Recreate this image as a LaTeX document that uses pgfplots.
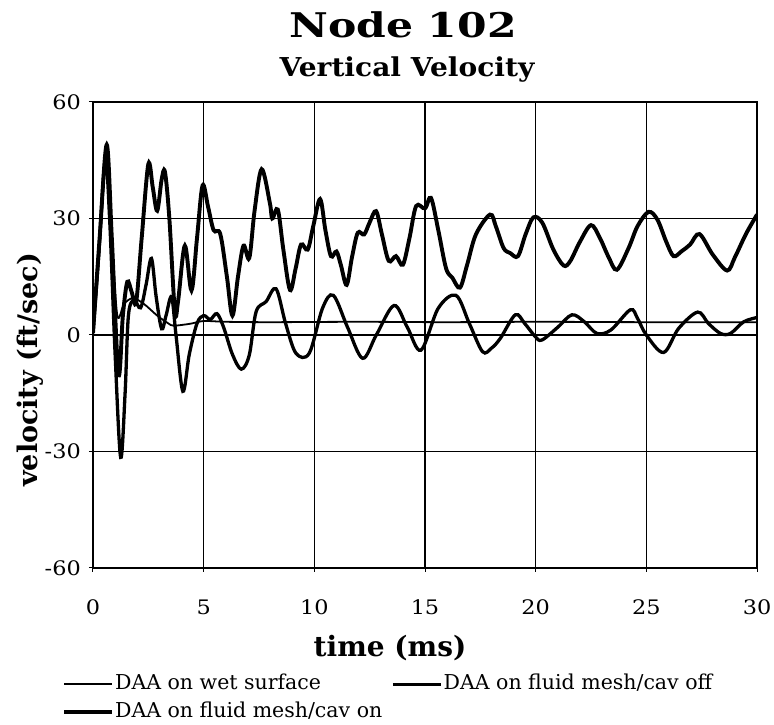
\documentclass[border=0pt]{standalone}
\usepackage{fontspec}
\usepackage{pgfplots}
\pgfplotsset{compat=1.18}
\setmainfont{DejaVu Serif}
\newfontfamily\dvs{DejaVu Serif}[FakeStretch=1.12]
\newfontfamily\dvt{DejaVu Serif}[FakeStretch=1.25]
\newfontfamily\dvu{DejaVu Serif}[FakeStretch=1.08]
\newfontfamily\lgf{DejaVu Serif}

\pgfplotstableread{
t v
0 0
0.3 22
0.6 46
0.85 25
1.1 5
1.4 8
1.8 9.5
2.3 8
2.9 5
3.4 3
3.65 2.4
4.4 2.9
5 3.6
6 3.4
8 3.3
12 3.4
16 3.3
20 3.4
25 3.3
30 3.3
}\wet

\pgfplotstableread{
t v
0 0.5
0.25 20
0.55 45
0.75 30
1.0 -5
1.25 -31.5
1.45 -15
1.6 5
1.85 9
2.15 7
2.4 13
2.64 19.7
2.85 10
3.1 1.6
3.3 5
3.55 9.8
3.75 0
4.06 -14.5
4.35 -5
4.7 3
5.0 5
5.3 4
5.6 5.5
5.9 2
6.3 -5
6.7 -8.8
7.06 -5.2
7.37 6
7.82 8.6
8.27 11.9
8.7 3
9.17 -4.7
9.77 -4.7
10.37 6.9
10.86 10.2
11.5 2
12.18 -6
12.8 0
13.6 7.6
14.2 2
14.82 -3.9
15.6 6.9
16.4 10.2
17.0 3
17.6 -4.3
18.0 -3.4
18.4 -0.9
19.08 5.2
19.5 3
19.98 -0.4
20.28 -1.3
21.0 2
21.64 5.2
22.2 3.4
22.77 0.4
23.4 1.3
24.28 6.5
24.6 4.3
25.0 0
25.78 -4.5
26.46 1.7
27.32 5.9
27.8 3
28.35 0.4
28.8 0.4
29.4 3.4
30 4.5
}\cavoff

\pgfplotstableread{
t v
0 0.5
0.3 25
0.62 49
0.85 25
1.15 -10
1.35 5
1.55 13.7
1.75 11
1.95 8.5
2.2 25
2.5 44
2.7 38
2.9 32
3.1 40
3.25 42
3.45 30
3.7 6
3.85 9
4.15 23
4.45 11.5
4.7 25
4.95 38.5
5.2 33
5.45 27
5.75 26
6.05 15
6.3 5
6.55 15
6.8 23
7.06 19.8
7.3 32
7.62 42.7
7.99 34
8.1 30
8.35 32.3
8.6 22
8.9 11.6
9.15 17
9.4 23.3
9.7 22
9.95 28
10.26 35
10.5 27
10.75 20.3
11.0 21.5
11.2 18
11.46 12.9
11.7 20
11.96 26.3
12.25 25.9
12.5 29
12.79 31.9
13.05 26
13.36 19.1
13.69 20.3
14.0 18.1
14.3 25
14.6 33.2
15.0 32.6
15.27 35.3
15.6 27
15.95 17.2
16.24 14.7
16.58 12.2
16.9 18
17.3 25.9
17.94 31
18.2 28
18.55 22.4
18.85 21.1
19.2 20.3
19.55 26
19.9 30.3
20.3 28.9
20.8 22
21.26 17.9
21.56 19
22.0 24
22.5 28.3
22.9 25
23.3 20
23.67 16.8
24.2 22.4
24.6 28
25.1 31.7
25.5 29.7
25.9 24
26.23 20.3
26.6 21.6
26.98 23.3
27.4 26
28.0 20.7
28.65 16.6
29.0 20
29.5 26
30 31
}\cavon

\begin{document}
\begin{tikzpicture}
\path[use as bounding box] (-93pt,-157pt) rectangle (681pt,568pt);
\begin{axis}[
  scale only axis,
  width=664pt, height=466pt,
  xmin=0, xmax=30, ymin=-60, ymax=60,
  xtick={0,5,...,30}, xticklabels={0,5,10,15,20,25,30},
  ytick={-60,-30,0,30,60}, yticklabels={-60,-30,0,30,60},
  grid=major,
  major grid style={black, line width=1.1pt},
  axis line style={black, line width=1.2pt},
  tick style={black, line width=1pt},
  tick align=center, major tick length=8pt,
  xtick pos=bottom, ytick pos=left,
  ticklabel style={font=\dvs\fontsize{20}{24}\selectfont, inner sep=0pt},
  xticklabel style={anchor=base, yshift=-42pt},
  yticklabel style={anchor=east, xshift=-8pt},
  legend columns=2,
  legend cell align=left,
  legend style={at={(axis description cs:0,0)}, anchor=north west,
    xshift=-31pt, yshift=-105pt, draw=none, fill=none, inner sep=0pt,
    font=\lgf\fontsize{20.5}{24}\selectfont,
    nodes={inner sep=1pt, text height=15.5pt, text depth=4.5pt},
    row sep=6pt,
    /tikz/every even column/.append style={column sep=8pt}},
  legend image code/.code={\draw[#1] (0pt,0pt) -- (48pt,0pt);},
]
\addplot[black, line width=1.8pt, smooth, tension=0.5] table[x=t,y=v] {\wet};
\addlegendentry{DAA on wet surface}
\addplot[black, line width=3.3pt, smooth, tension=0.55] table[x=t,y=v] {\cavoff};
\addlegendentry{DAA on fluid mesh/cav off}
\addplot[black, line width=3.9pt, smooth, tension=0.55] table[x=t,y=v] {\cavon};
\addlegendentry{DAA on fluid mesh/cav on}
\end{axis}
\node[font=\dvt\bfseries\fontsize{34}{38}\selectfont] at (310pt,543pt) {Node 102};
\node[font=\dvu\bfseries\fontsize{26}{30}\selectfont] at (314pt,498pt) {Vertical Velocity};
\node[font=\lgf\bfseries\fontsize{27}{30}\selectfont, rotate=90] at (-63pt,198pt) {velocity (ft/sec)};
\node[font=\lgf\bfseries\fontsize{28}{30}\selectfont] at (297pt,-80pt) {time (ms)};
\end{tikzpicture}
\end{document}
